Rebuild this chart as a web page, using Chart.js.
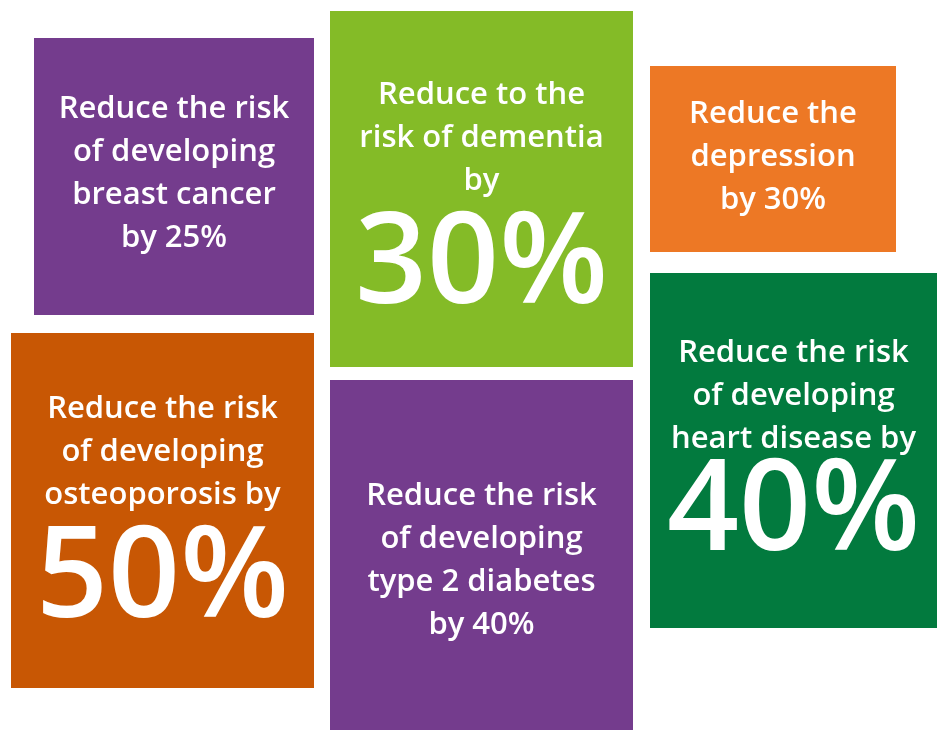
<!DOCTYPE html>
<html>
<head>
<meta charset="utf-8">
<script src="https://cdn.jsdelivr.net/npm/chart.js@4/dist/chart.umd.min.js"></script>
<style>
  html, body { margin: 0; padding: 0; background: #ffffff; }
  #wrap { width: 937px; height: 730px; }
</style>
</head>
<body>
<div id="wrap"><canvas id="c" width="937" height="730"></canvas></div>
<script>
// ---- data ----
const conditions = ["breast cancer", "dementia", "depression", "heart disease", "osteoporosis", "type 2 diabetes"];
const reductions = [25, 30, 30, 40, 50, 40];
const textLines = [
  ["Reduce the risk", "of developing", "breast cancer", "by 25%"],
  ["Reduce to the", "risk of dementia", "by"],
  ["Reduce the", "depression", "by 30%"],
  ["Reduce the risk", "of developing", "heart disease by"],
  ["Reduce the risk", "of developing", "osteoporosis by"],
  ["Reduce the risk", "of developing", "type 2 diabetes", "by 40%"]
];
const bigFigure = [false, true, false, true, true, false];

// ---- layout (positions / styles, in axis units) ----
const boxX0 = [34, 330, 650, 650, 11, 330];
const boxX1 = [314, 633, 896, 937, 314, 633];
const boxY0 = [38, 11, 66, 273, 333, 380];
const boxY1 = [315, 367, 252, 628, 688, 730];
const firstBaseline = [118, 104, 123, 362, 418, 505];
const bigBaseline = [0, 303, 0, 550, 617, 0];
const boxColors = ["#743c8d", "#84bb27", "#ed7825", "#027a3e", "#c85704", "#743c8d"];
const lineStep = 43;

const boxPlugin = {
  id: 'boxes',
  afterDatasetsDraw(chart) {
    const ctx = chart.ctx, xs = chart.scales.x, ys = chart.scales.y;
    ctx.save();
    conditions.forEach((name, i) => {
      const l = xs.getPixelForValue(boxX0[i]), r = xs.getPixelForValue(boxX1[i]);
      const t = ys.getPixelForValue(boxY0[i]), b = ys.getPixelForValue(boxY1[i]);
      ctx.fillStyle = boxColors[i];
      ctx.fillRect(l, t, r - l, b - t);
      const cx = (l + r) / 2;
      ctx.fillStyle = "#ffffff";
      ctx.textAlign = "center";
      ctx.textBaseline = "alphabetic";
      ctx.font = "600 31px 'Open Sans'";
      textLines[i].forEach((line, k) => {
        const y = ys.getPixelForValue(firstBaseline[i] + k * lineStep);
        ctx.fillText(line, cx, y);
      });
      if (bigFigure[i]) {
        ctx.font = "600 126px 'Open Sans'";
        ctx.fillText(reductions[i] + "%", cx, ys.getPixelForValue(bigBaseline[i]));
      }
    });
    ctx.restore();
  }
};

function build() {
  new Chart(document.getElementById('c'), {
    type: 'scatter',
    data: {
      datasets: [{
        label: 'Risk reduction',
        data: conditions.map((c, i) => ({ x: (boxX0[i] + boxX1[i]) / 2, y: (boxY0[i] + boxY1[i]) / 2 })),
        pointRadius: 0,
        pointHoverRadius: 0
      }]
    },
    options: {
      responsive: false,
      animation: false,
      layout: { padding: 0 },
      plugins: { legend: { display: false }, tooltip: { enabled: false } },
      scales: {
        x: { type: 'linear', min: 0, max: 937, display: false },
        y: { type: 'linear', min: 0, max: 730, reverse: true, display: false }
      }
    },
    plugins: [boxPlugin]
  });
}

Promise.all([
  document.fonts.load("600 31px 'Open Sans'"),
  document.fonts.load("600 126px 'Open Sans'")
]).then(build, build);
</script>
</body>
</html>
